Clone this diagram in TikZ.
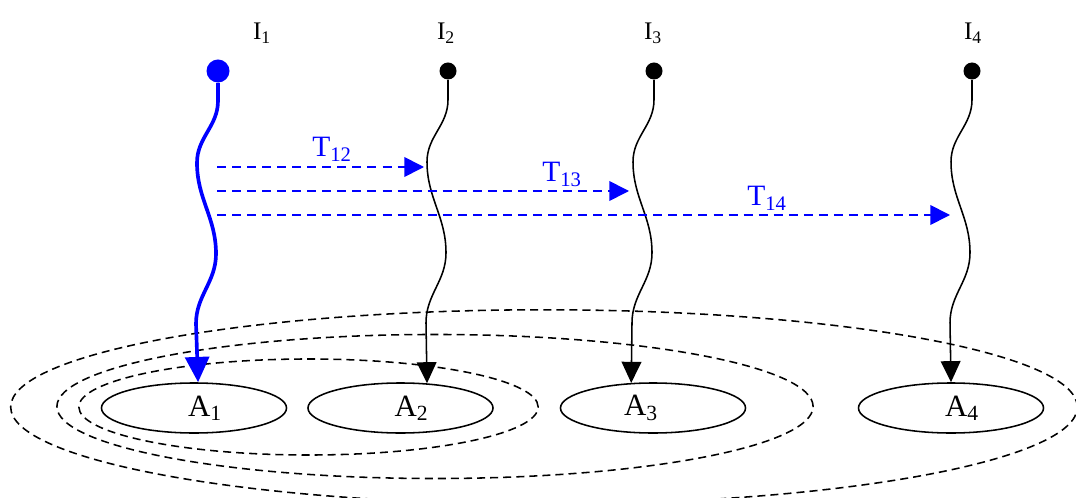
\documentclass[tikz,border=0pt]{standalone}
\usepackage{fontspec}
\setmainfont{Liberation Serif}
\usetikzlibrary{arrows.meta, shapes.geometric}

\begin{document}
\begin{tikzpicture}[
        x=0.025cm, y=-0.025cm,
        src/.style={circle, fill=black, inner sep=0pt, minimum size=0.425cm},
        hotsrc/.style={circle, fill=blue, inner sep=0pt, minimum size=0.575cm},
        sink/.style={ellipse, draw=black, line width=1.1pt, minimum width=4.625cm, minimum height=1.25cm, inner sep=0pt, font=\fontsize{22}{24}\selectfont},
        wire/.style={line width=1.1pt, -{Triangle[length=15pt, width=14pt]}},
        hotwire/.style={blue, line width=2.6pt, -{Triangle[length=18pt, width=17pt]}},
        transfer/.style={blue, line width=1.2pt, dash pattern=on 6.4pt off 4.3pt, -{Triangle[length=14pt, width=14pt]}},
        group/.style={line width=1.1pt, dash pattern=on 5.7pt off 3.6pt},
        tag/.style={anchor=base, font=\fontsize{18}{20}\selectfont},
        ttag/.style={anchor=base, text=blue, font=\fontsize{21}{24}\selectfont}
    ]
        \useasboundingbox (0,0) rectangle (1076,498);

        % Groups
        \draw[group] (308.5,407) ellipse [x radius=5.74cm, y radius=1.2cm];
        \draw[group] (435,406.5) ellipse [x radius=9.45cm, y radius=1.8cm];
        \draw[group] (544,407) ellipse [x radius=13.33cm, y radius=2.43cm];

        % Nodes
        \node[hotsrc] (i1) at (218,71) {};
        \node[src] (i2) at (448,71) {};
        \node[src] (i3) at (654,71) {};
        \node[src] (i4) at (972,71) {};

        \node[tag] (l1) at (262,40) {I\textsubscript{1}};
        \node[tag] (l2) at (446,40) {I\textsubscript{2}};
        \node[tag] (l3) at (653,40) {I\textsubscript{3}};
        \node[tag] (l4) at (973,40) {I\textsubscript{4}};

        \node[sink] (a1) at (194,408) {\hspace*{0.55cm}A\textsubscript{1}};
        \node[sink] (a2) at (400.5,408) {\hspace*{0.55cm}A\textsubscript{2}};
        \node[sink] (a3) at (653,408) {A\textsubscript{3}\hspace*{0.6cm}};
        \node[sink] (a4) at (951,408) {\hspace*{0.55cm}A\textsubscript{4}};

        \coordinate (s12) at (217,167);
        \coordinate (e12) at (424,167);
        \coordinate (s13) at (217,191);
        \coordinate (e13) at (629,191);
        \coordinate (s14) at (217,215);
        \coordinate (e14) at (950,215);

        % Paths
        \draw[hotwire] (i1.south) -- ++(0,18) to[out=-90,in=90] ++(-21,62) to[out=-90,in=90] ++(19,91)
            to[out=-90,in=90] ++(-20,70) -- (a1.81);
        \draw[wire] (i2.south) -- ++(0,20) to[out=-90,in=90] ++(-21,62) to[out=-90,in=90] ++(19,91)
            to[out=-90,in=90] ++(-20,70) -- (a2.43);
        \draw[wire] (i3.south) -- ++(0,20) to[out=-90,in=90] ++(-21,62) to[out=-90,in=90] ++(19,91)
            to[out=-90,in=90] ++(-20,70) -- (a3.131);
        \draw[wire] (i4.south) -- ++(0,20) to[out=-90,in=90] ++(-21,62) to[out=-90,in=90] ++(19,91)
            to[out=-90,in=90] ++(-20,70) -- (a4.north);

        \draw[transfer] (s12) -- (e12);
        \draw[transfer] (s13) -- (e13);
        \draw[transfer] (s14) -- (e14);

        \node[ttag] (t12) at (332,157) {T\textsubscript{12}};
        \node[ttag] (t13) at (562,182) {T\textsubscript{13}};
        \node[ttag] (t14) at (767,206) {T\textsubscript{14}};
    \end{tikzpicture}
\end{document}
